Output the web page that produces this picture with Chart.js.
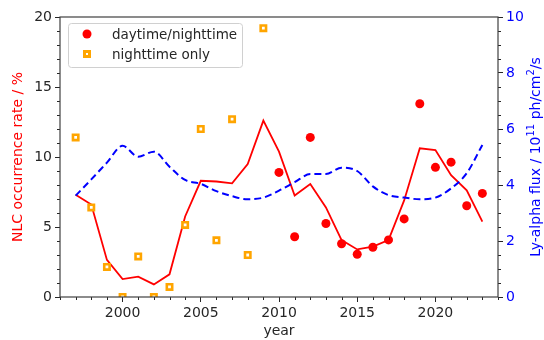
<!DOCTYPE html>
<html>
<head>
<meta charset="utf-8">
<script src="https://cdn.jsdelivr.net/npm/chart.js@4/dist/chart.umd.min.js"></script>
<style>
body{margin:0;background:#fff}
</style>
</head>
<body>
<canvas id="chart" width="544" height="340"></canvas>
<script>
// yearly values
const years = [1997,1998,1999,2000,2001,2002,2003,2004,2005,2006,2007,2008,2009,2010,2011,2012,2013,2014,2015,2016,2017,2018,2019,2020,2021,2022,2023]
const smoothRate = [7.3,6.6,2.65,1.28,1.45,0.9,1.62,5.75,8.3,8.25,8.12,9.5,12.6,10.38,7.25,8.07,6.4,4.07,3.4,3.6,4.07,6.9,10.62,10.5,8.7,7.62,5.38]
const lyaFlux = [3.62,4.2,4.8,5.4,5.01,5.19,4.65,4.18,4.04,3.78,3.6,3.49,3.55,3.8,4.1,4.39,4.39,4.62,4.5,3.95,3.64,3.55,3.49,3.55,3.88,4.42,5.43]

const nightYears = [1997,1998,1999,2000,2001,2002,2003,2004,2005,2006,2007,2008,2009]
const nightOnly = [11.4,6.4,2.15,0,2.9,0,0.72,5.15,12.0,4.05,12.7,3.0,19.2]

const dayYears = [2010,2011,2012,2013,2014,2015,2016,2017,2018,2019,2020,2021,2022,2023]
const dayNight = [8.9,4.3,11.4,5.25,3.8,3.05,3.55,4.08,5.58,13.8,9.26,9.63,6.52,7.4]

const xTicks = [2000,2005,2010,2015,2020]

const RED = "#ff0000"
const BLUE = "#0000ff"
const ORANGE = "#ffa500"
const INK = "#262626"
const FONT = "'DejaVu Sans', sans-serif"

function pts(xs, ys){
  return xs.map((x,i)=>({x:x, y:ys[i]}))
}

/* legend box inside the plot, like matplotlib's upper left legend */
const legendBox = {
  id:"legendBox",
  afterDatasetsDraw(chart){
    const ctx = chart.ctx
    const a = chart.chartArea
    const bx = a.left + 8, by = a.top + 6, bw = 174, bh = 44
    ctx.save()
    ctx.beginPath()
    ctx.roundRect(bx+0.5, by+0.5, bw, bh, 3)
    ctx.fillStyle = "rgba(255,255,255,0.8)"
    ctx.fill()
    ctx.strokeStyle = "#d0d0d0"
    ctx.lineWidth = 1
    ctx.stroke()

    ctx.beginPath()
    ctx.arc(bx+19, by+11, 4.5, 0, Math.PI*2)
    ctx.fillStyle = RED
    ctx.fill()

    ctx.fillStyle = ORANGE
    ctx.fillRect(bx+15, by+27, 8, 8)
    ctx.fillStyle = "#fff"
    ctx.fillRect(bx+18, by+30, 2, 2)

    ctx.fillStyle = INK
    ctx.font = "13.5px " + FONT
    ctx.textBaseline = "middle"
    ctx.fillText("daytime/nighttime", bx+44, by+12)
    ctx.fillText("nighttime only", bx+44, by+32)
    ctx.restore()
  }
}

/* frame, minor ticks and the right axis title */
const extras = {
  id:"extras",
  afterDraw(chart){
    const ctx = chart.ctx
    const a = chart.chartArea
    const sx = chart.scales.x, sy = chart.scales.y, sy1 = chart.scales.y1
    ctx.save()
    ctx.strokeStyle = INK
    ctx.lineWidth = 1
    ctx.beginPath()
    for(let v=1996; v<=2024; v++){
      if(v%5==0) continue
      const p = Math.round(sx.getPixelForValue(v))+0.5
      ctx.moveTo(p, a.bottom); ctx.lineTo(p, a.bottom+3)
    }
    for(let v=0; v<=20; v++){
      if(v%5==0) continue
      const p = Math.round(sy.getPixelForValue(v))+0.5
      ctx.moveTo(a.left-3, p); ctx.lineTo(a.left, p)
    }
    for(let v=0; v<=10; v+=0.5){
      if(v%2==0) continue
      const p = Math.round(sy1.getPixelForValue(v))+0.5
      ctx.moveTo(a.right, p); ctx.lineTo(a.right+3, p)
    }
    ctx.stroke()

    ctx.strokeStyle = "#404040"
    ctx.lineWidth = 1.2
    ctx.strokeRect(a.left, a.top, a.right-a.left, a.bottom-a.top)

    // right title, read bottom to top with superscripts
    const segs = [
      {t:"Ly-alpha flux / 10", s:14, up:0},
      {t:"11", s:10, up:5},
      {t:" ph/cm", s:14, up:0},
      {t:"2", s:10, up:5},
      {t:"/s", s:14, up:0}
    ]
    let total = 0
    segs.forEach(g=>{ ctx.font = g.s+"px "+FONT; g.w = ctx.measureText(g.t).width; total += g.w })
    ctx.translate(536, (a.top+a.bottom)/2)
    ctx.rotate(-Math.PI/2)
    ctx.fillStyle = BLUE
    ctx.textBaseline = "middle"
    let x = -total/2
    segs.forEach(g=>{
      ctx.font = g.s+"px "+FONT
      ctx.fillText(g.t, x, -g.up)
      x += g.w
    })
    ctx.restore()
  }
}

new Chart(document.getElementById("chart"),{

type:"line",

data:{
datasets:[
{
  type:"scatter",
  label:"daytime/nighttime",
  data:pts(dayYears, dayNight),
  yAxisID:"y",
  pointStyle:"circle",
  pointRadius:4.5,
  pointBackgroundColor:RED,
  pointBorderWidth:0,
  order:1
},
{
  type:"scatter",
  label:"nighttime only",
  data:pts(nightYears, nightOnly),
  yAxisID:"y",
  pointStyle:"rect",
  pointRadius:3.8,
  pointBackgroundColor:"#fff",
  pointBorderColor:ORANGE,
  pointBorderWidth:2.6,
  order:1
},
{
  label:"NLC rate smoothed",
  data:pts(years, smoothRate),
  yAxisID:"y",
  borderColor:RED,
  borderWidth:1.8,
  pointRadius:0,
  tension:0,
  fill:false,
  order:2
},
{
  label:"Ly-alpha",
  data:pts(years, lyaFlux),
  yAxisID:"y1",
  borderColor:BLUE,
  borderWidth:2,
  borderDash:[7,4],
  pointRadius:0,
  cubicInterpolationMode:"monotone",
  fill:false,
  order:0
}
]
},

options:{
  responsive:false,
  animation:false,
  layout:{padding:{top:17,left:0,right:0,bottom:0}},
  plugins:{legend:{display:false}, tooltip:{enabled:false}},
  scales:{
    x:{
      type:"linear",
      min:1996, max:2024,
      afterBuildTicks:s=>{ s.ticks = xTicks.map(v=>({value:v})) },
      afterFit:s=>{ s.height = 43 },
      grid:{display:true, drawOnChartArea:false, tickLength:5, tickColor:INK},
      border:{display:false},
      ticks:{color:INK, font:{family:FONT, size:14}, padding:3, maxRotation:0, callback:v=>String(v)},
      title:{display:true, text:"year", color:INK, font:{family:FONT, size:14}, padding:{top:0,bottom:0}}
    },
    y:{
      position:"left",
      min:0, max:20,
      ticks:{stepSize:5, color:INK, font:{family:FONT, size:14}, padding:3},
      afterFit:s=>{ s.width = 60 },
      grid:{display:true, drawOnChartArea:false, tickLength:5, tickColor:INK},
      border:{display:false},
      title:{display:true, text:"NLC occurrence rate / %", color:RED, font:{family:FONT, size:14}, padding:{top:10,bottom:0}}
    },
    y1:{
      position:"right",
      min:0, max:10,
      ticks:{stepSize:2, color:BLUE, font:{family:FONT, size:14}, padding:3},
      afterFit:s=>{ s.width = 46 },
      grid:{display:true, drawOnChartArea:false, tickLength:5, tickColor:INK},
      border:{display:false}
    }
  }
},

plugins:[legendBox, extras]

})
</script>
</body>
</html>
